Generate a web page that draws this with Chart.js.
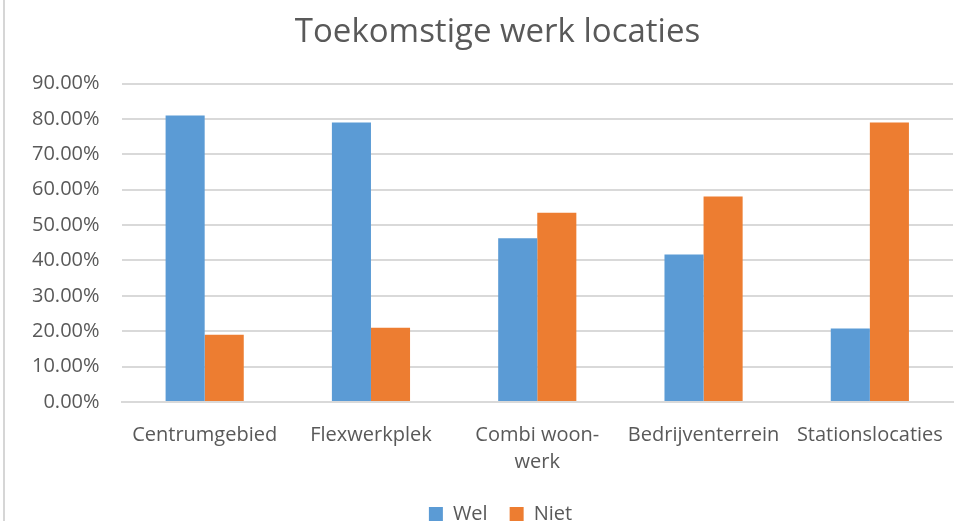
<!doctype html>
<html lang="nl">
<head>
    <meta charset="utf-8">
    <title>Toekomstige werk locaties</title>
    <script src="https://cdn.jsdelivr.net/npm/chart.js@4.4.0/dist/chart.umd.min.js"></script>
    <style>
        html, body { margin: 0; padding: 0; background: #fff; overflow: hidden; }
        #wrap { position: relative; width: 969px; height: 521px; overflow: hidden; }
        #edge { position: absolute; left: 3px; top: 0; width: 2px; height: 521px; background: #d6d6d6; }
        canvas { position: absolute; left: 0; top: 0; }
    </style>
</head>
<body>
<div id="wrap">
    <!-- canvas taller than the window, the legend is partly cut off like in the original -->
    <canvas id="chart" width="969" height="548"></canvas>
    <div id="edge"></div>
</div>

<script>
    // data
    let categories = ['Centrumgebied', 'Flexwerkplek', ['Combi woon-', 'werk'], 'Bedrijventerrein', 'Stationslocaties'];
    let welValues = [81.0, 79.0, 46.3, 41.7, 20.8];
    let nietValues = [19.0, 21.0, 53.5, 58.1, 79.0];
    let yTickStep = 10;
    let yMax = 90;

    const textColor = '#595959';

    // title and legend sit a bit right of the middle in the original
    const nudgeBlocks = {
        id: 'nudgeBlocks',
        afterLayout(chart) {
            const t = chart.titleBlock;
            t.left += 16; t.right += 16;
            const l = chart.legend;
            l.left += 19; l.right += 19;
            l.top -= 14; l.bottom -= 14;
        }
    };

    const chart = new Chart(document.getElementById('chart'), {
        type: 'bar',
        data: {
            labels: categories,
            datasets: [{
                label: 'Wel',
                data: welValues,
                backgroundColor: '#5b9bd5',
                categoryPercentage: 0.47,
                barPercentage: 1.0
            }, {
                label: 'Niet',
                data: nietValues,
                backgroundColor: '#ed7d31',
                categoryPercentage: 0.47,
                barPercentage: 1.0
            }]
        },
        options: {
            responsive: false,
            devicePixelRatio: 1,
            animation: false,
            layout: {
                padding: { left: 10, right: 16, top: 0, bottom: 0 }
            },
            plugins: {
                title: {
                    display: true,
                    text: 'Toekomstige werk locaties',
                    color: textColor,
                    font: { family: 'Open Sans', size: 33, weight: 'normal' },
                    padding: { top: 13, bottom: 31 }
                },
                legend: {
                    position: 'bottom',
                    labels: {
                        color: textColor,
                        font: { family: 'Open Sans', size: 20 },
                        boxWidth: 14,
                        boxHeight: 14,
                        padding: 22
                    }
                },
                tooltip: { enabled: false }
            },
            scales: {
                x: {
                    grid: { display: false, drawTicks: false },
                    border: { color: '#d9d9d9', width: 2 },
                    ticks: {
                        color: textColor,
                        font: { family: 'Open Sans', size: 20, lineHeight: 1.35 },
                        padding: 20,
                        maxRotation: 0,
                        autoSkip: false
                    }
                },
                y: {
                    min: 0,
                    max: yMax,
                    grid: { color: '#d9d9d9', lineWidth: 2, drawTicks: false },
                    border: { display: false },
                    ticks: {
                        stepSize: yTickStep,
                        color: textColor,
                        font: { family: 'Open Sans', size: 20 },
                        padding: 22,
                        callback: function (value) {
                            return value.toFixed(2) + '%';
                        }
                    }
                }
            }
        },
        plugins: [nudgeBlocks]
    });
</script>
</body>
</html>
